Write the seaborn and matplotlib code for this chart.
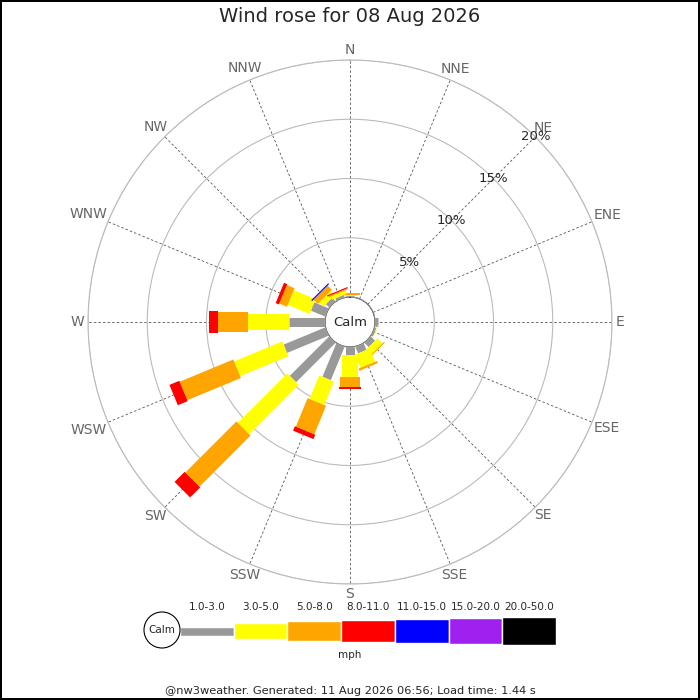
import numpy as np
import matplotlib
matplotlib.use("Agg")
import matplotlib.pyplot as plt
import seaborn as sns
from matplotlib.patches import Circle

# Directions (clockwise from north) and speed classes
directions = ["N", "NNE", "NE", "ENE", "E", "ESE", "SE", "SSE",
              "S", "SSW", "SW", "WSW", "W", "WNW", "NW", "NNW"]
speed_bins = ["1.0-3.0", "3.0-5.0", "5.0-8.0", "8.0-11.0",
              "11.0-15.0", "15.0-20.0", "20.0-50.0"]

# Frequency (%) of each speed class per direction
freq_1_3 = [0.1, 0.0, 0.0, 0.0, 0.25, 0.15, 0.5, 0.6,
            0.7, 3.05, 4.7, 3.8, 3.0, 1.3, 0.4, 0.2]
freq_3_5 = [0.1, 0.0, 0.0, 0.0, 0.0, 0.05, 0.6, 1.2,
            1.85, 2.15, 5.9, 4.4, 3.5, 2.0, 0.5, 0.3]
freq_5_8 = [0.1, 0.0, 0.0, 0.0, 0.0, 0.0, 0.1, 0.2,
            0.85, 2.6, 6.1, 4.9, 2.5, 0.7, 0.5, 0.1]
freq_8_11 = [0.05, 0.0, 0.0, 0.0, 0.0, 0.0, 0.0, 0.0,
             0.15, 0.4, 1.2, 0.9, 0.75, 0.3, 0.0, 0.1]
freq_11_15 = [0.0, 0.0, 0.0, 0.0, 0.0, 0.0, 0.0, 0.0,
              0.0, 0.0, 0.0, 0.0, 0.0, 0.0, 0.1, 0.0]
freq_15_20 = [0.0] * 16
freq_20_50 = [0.0] * 16

pct_ticks = [5, 10, 15, 20]

freqs = np.array([freq_1_3, freq_3_5, freq_5_8, freq_8_11,
                  freq_11_15, freq_15_20, freq_20_50])

# styles
colors = sns.color_palette(["#999999", "#ffff00", "#ffa500", "#ff0000",
                            "#0000ff", "#a020f0", "#000000"])
bar_px = [9, 16, 20, 22, 24, 26, 28]

sns.set_style("white")
plt.rcParams["font.family"] = ["DejaVu Sans"]

fig = plt.figure(figsize=(7, 7), dpi=100, linewidth=1.5, edgecolor="black")
ax = fig.add_axes([88 / 700, 116 / 700, 524 / 700, 524 / 700], projection="polar")
ax.set_theta_zero_location("N")
ax.set_theta_direction(-1)

thetas = np.deg2rad(np.arange(len(directions)) * 22.5)

# stacked rays, one line per speed class
for d, theta in enumerate(thetas):
    base = 0.0
    for b in range(len(speed_bins)):
        v = freqs[b, d]
        if v <= 0:
            continue
        ax.plot([theta, theta], [base, base + v], color=colors[b],
                lw=bar_px[b] * 0.72, solid_capstyle="butt", zorder=3)
        base += v

ax.set_ylim(0, 20)
ax.set_rorigin(-2.11)
ax.set_yticks(pct_ticks)
ax.set_yticklabels([])
ax.set_xticks(thetas)
ax.set_xticklabels([])
ax.xaxis.grid(True, color="#555555", linestyle=(0, (3, 2.5)), linewidth=0.6)
ax.yaxis.grid(True, color="#bbbbbb", linestyle="-", linewidth=0.8)
ax.spines["polar"].set_color("#bbbbbb")
ax.spines["polar"].set_linewidth(0.8)

# direction labels just outside the outer ring
renderer = fig.canvas.get_renderer()
for theta, lab in zip(thetas, directions):
    t = ax.annotate(lab, xy=(theta, 20), xytext=(0, 0), textcoords="offset pixels",
                    ha="center", va="center", color="#666666", fontsize=10,
                    annotation_clip=False)
    bb = t.get_window_extent(renderer)
    ux, uy = np.sin(theta), np.cos(theta)
    r = 3.5 + np.hypot(bb.width / 2 * ux, bb.height / 2 * uy)
    t.xyann = (r * ux, r * uy)

for t in pct_ticks:
    ax.text(np.pi / 4, t, f"{t}%", ha="center", va="center", fontsize=9.5, zorder=4)

# calm circle
ax.add_artist(Circle((0.5, 0.5), 25 / 524, transform=ax.transAxes,
                     facecolor="white", edgecolor="#aaaaaa", lw=0.8, zorder=5))
ax.text(0.5, 0.5, "Calm", transform=ax.transAxes, ha="center", va="center",
        fontsize=9.5, zorder=6)

fig.text(0.5, 1 - 17 / 700, "Wind rose for 08 Aug 2026", ha="center", va="center",
         fontsize=14)

# legend
lax = fig.add_axes([180 / 700, 1 - 645 / 700, 376 / 700, 28 / 700])
lax.set_xlim(-0.5, len(speed_bins) - 0.5)
lax.set_ylim(14, -14)
lax.axis("off")
h = np.array(bar_px, dtype=float)
lax.bar(range(len(speed_bins)), h, bottom=-h / 2, width=1.0, color=colors)
for i, lab in enumerate(speed_bins):
    lax.text(i, -24, lab, ha="center", va="center", fontsize=7.5, clip_on=False)

fig.add_artist(Circle((162 / 700, 1 - 630 / 700), 18 / 700, transform=fig.transFigure,
                      facecolor="white", edgecolor="black", lw=0.8))
fig.text(162 / 700, 1 - 630 / 700, "Calm", ha="center", va="center", fontsize=7.5)
fig.text(0.5, 1 - 655 / 700, "mph", ha="center", va="center", fontsize=7.5)

fig.text(0.5, 1 - 691 / 700,
         "@nw3weather. Generated: 11 Aug 2026 06:56; Load time: 1.44 s",
         ha="center", va="center", fontsize=8.2)

fig.savefig("out.png", dpi=100)
